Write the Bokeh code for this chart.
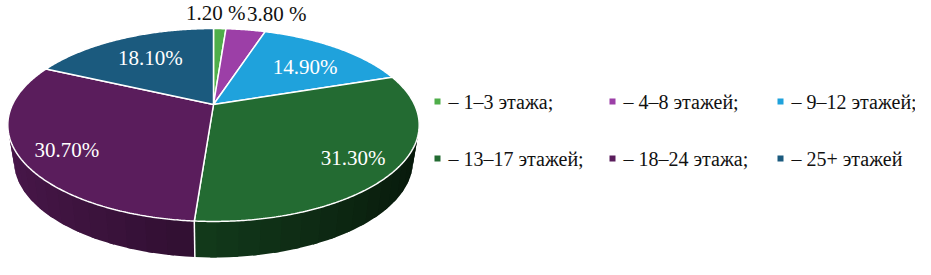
import numpy as np
from bokeh.plotting import figure
from bokeh.models import Range1d, Label
from bokeh.core.properties import value
from bokeh.embed import file_html
from bokeh.resources import INLINE

# ---------------- data ----------------
categories = ["1–3 этажа", "4–8 этажей", "9–12 этажей", "13–17 этажей", "18–24 этажа", "25+ этажей"]
shares = [1.2, 3.8, 14.9, 31.3, 30.7, 18.1]
value_labels = ["1.20 %", "3.80 %", "14.90%", "31.30%", "30.70%", "18.10%"]
legend_labels = ["– 1–3 этажа;", "– 4–8 этажей;", "– 9–12 этажей;",
                 "– 13–17 этажей;", "– 18–24 этажа;", "– 25+ этажей"]

# ---------------- style ----------------
colors = ["#4fae4a", "#9c3fa7", "#1fa2dc", "#236b32", "#5a1d5c", "#1b5a7e"]
label_colors = ["#111111", "#111111", "white", "white", "white", "white"]
label_r = [1.0, 1.0, 0.7, 0.8, 0.8, 0.65]
label_dx = [-4, 31, 2, -2, 5, 0]
label_dy = [-15, -15, 5, 4, 6, 0]
FONT = "Times New Roman"

CX, CY, A, B, K = 213.0, 104.0, 201.0, 92.1, 0.2124
DEPTH, SB = 36.0, 0.97

W, H = 915, 259
p = figure(width=W, height=H, output_backend="svg", toolbar_location=None,
           x_range=Range1d(0, W), y_range=Range1d(H, 0), min_border=0)
p.outline_line_alpha = 0
p.axis.visible = False
p.grid.visible = False

# ---------- legend ----------
col_x = [437, 612, 780]
row_y = [101, 158]
mx, my = [], []
for i in range(len(legend_labels)):
    r, c = divmod(i, 3)
    mx.append(col_x[c])
    my.append(row_y[r])
p.text(x=[v + 11 for v in mx], y=[v + 11 for v in my], text=legend_labels,
       text_font=value(FONT), text_font_size="20px", text_color="#111111")
p.scatter(x=mx, y=my, marker="square", size=6, fill_color=colors, line_color=None)


def proj(phi, r=1.0):
    d = 1 + K * r * np.cos(phi)
    return CX + A * r * np.sin(phi) / d, CY - B * r * np.cos(phi) / d


def proj_bottom(phi):
    x, y = proj(phi)
    return CX + (x - CX) * SB, y + DEPTH


def hex_to_rgb(h):
    h = h.lstrip("#")
    return tuple(int(h[i:i + 2], 16) for i in (0, 2, 4))


def shade(h, f):
    r, g, b = hex_to_rgb(h)
    return "#%02x%02x%02x" % (min(255, int(r * f)), min(255, int(g * f)), min(255, int(b * f)))


total = sum(shares)
bounds = np.concatenate([[0.0], np.cumsum(shares)]) / total * 2 * np.pi

# ---------- side (extrusion) as shaded strips ----------
lo, hi = np.radians(80), np.radians(280)
step = np.radians(5.0)
strips = []
for a0 in np.arange(lo, hi, step):
    mid = a0 + step / 2
    idx = int(np.searchsorted(bounds, mid, side="right") - 1)
    idx = min(max(idx, 0), len(shares) - 1)
    a0c = max(a0 - step * 0.15, bounds[idx])
    a1c = min(a0 + step * 1.15, bounds[idx + 1])
    t = np.linspace(a0c, a1c, 4)
    tx, ty = proj(t)
    bx, by = proj_bottom(t)
    f = 0.52 - 0.3 * np.sin(mid)
    c = shade(colors[idx], f)
    strips.append((np.cos(mid),
                   [float(v) for v in tx] + [float(v) for v in bx[::-1]],
                   [float(v) for v in ty] + [float(v) for v in by[::-1]], c))
strips.sort(key=lambda s: -s[0])
p.patches(xs=[s[1] for s in strips], ys=[s[2] for s in strips],
          fill_color=[s[3] for s in strips], line_color=None)

for b in bounds[1:-1]:
    if np.cos(b) < -K:
        x0, y0 = proj(b)
        x1, y1 = proj_bottom(b)
        p.line([float(x0), float(x1)], [float(y0), float(y1)], line_color="white", line_width=1.5)

# ---------- top face ----------
xs, ys = [], []
for i in range(len(shares)):
    a0, a1 = bounds[i], bounds[i + 1]
    n = max(4, int(np.degrees(a1 - a0) * 2))
    t = np.linspace(a0, a1, n)
    ax, ay = proj(t)
    xs.append([CX] + [float(v) for v in ax])
    ys.append([CY] + [float(v) for v in ay])
p.patches(xs=xs, ys=ys, fill_color=colors, line_color="white", line_width=1.5)

# ---------- value labels ----------
for i in range(len(shares)):
    mid = (bounds[i] + bounds[i + 1]) / 2
    x, y = proj(mid, label_r[i])
    p.add_layout(Label(x=float(x + label_dx[i]), y=float(y + label_dy[i] + 11),
                       text=value_labels[i], text_color=label_colors[i],
                       text_font=FONT, text_font_size="21px",
                       text_align="center", text_baseline="bottom"))

open("out.html", "w").write(file_html(p, INLINE))
